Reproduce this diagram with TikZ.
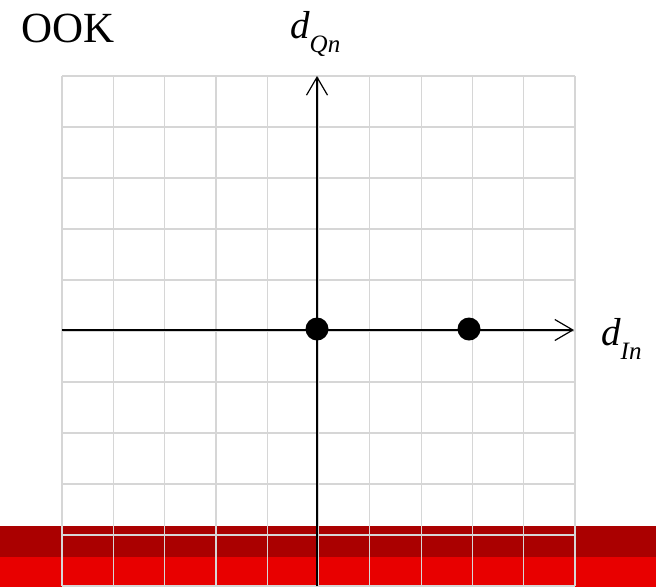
\documentclass[tikz,border=0pt]{standalone}
\usepackage{fontspec}
\setmainfont{Liberation Serif}
\usetikzlibrary{arrows.meta}
\definecolor{gridgray}{HTML}{D6D6D6}
\definecolor{darkband}{HTML}{AA0000}
\definecolor{brightband}{HTML}{E80000}
\tikzset{
  gridline/.style={draw=gridgray, line width=1.2pt},
  axisline/.style={draw=black, line width=1.5pt, -{Straight Barb[length=18pt,width=21pt,line width=1.2pt]}},
  dotnode/.style={circle, fill=black, minimum size=23pt, inner sep=0pt},
  lbl/.style={inner sep=0pt, anchor=base west}
}
\newcommand{\axlabel}[2]{\fontsize{39}{39}\selectfont\itshape #1\raisebox{-14pt}{\fontsize{25}{25}\selectfont\itshape #2}}
\begin{document}
\begin{tikzpicture}[x=1pt,y=-1pt]
\useasboundingbox (0,0) rectangle (656,587);
% red bands
\fill[darkband] (0,526) rectangle (656,557);
\fill[brightband] (0,557) rectangle (656,587);
% grid
\foreach \i in {0,...,10} {
  \draw[gridline] ({62+\i*51.3},76) -- ({62+\i*51.3},586);
  \draw[gridline] (62,{76+\i*51}) -- (575,{76+\i*51});
}
% axes
\coordinate (xs) at (62,330);
\coordinate (xe) at (574,330);
\coordinate (ys) at (317,586);
\coordinate (ye) at (317,76);
\draw[axisline] (xs) -- (xe);
\draw[axisline] (ys) -- (ye);
% points
\node[dotnode] (p0) at (317,329) {};
\node[dotnode] (p1) at (469,329) {};
% labels
\node[lbl, font=\fontsize{43}{43}\selectfont] (ook) at (21,42) {OOK};
\node[lbl] (dq) at (290,38) {\axlabel{d}{Qn}};
\node[lbl] (di) at (601,345) {\axlabel{d}{In}};
\end{tikzpicture}
\end{document}
